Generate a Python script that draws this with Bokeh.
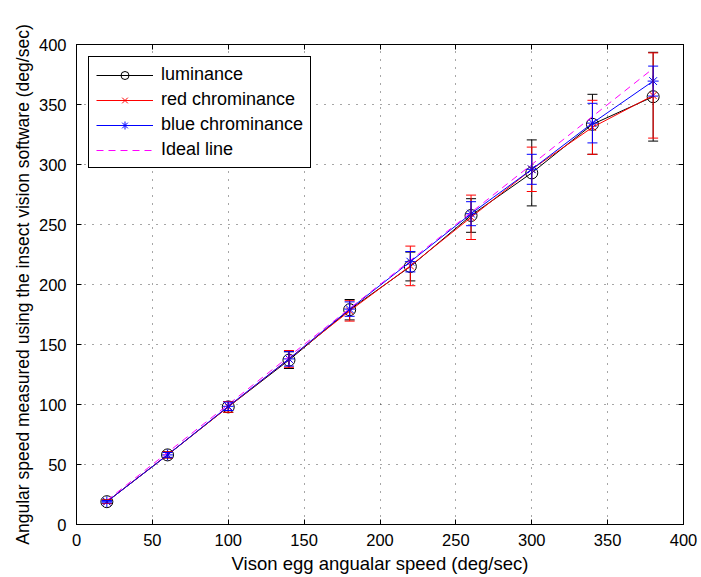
from bokeh.plotting import figure
from bokeh.models import (ColumnDataSource, Whisker, TeeHead, Range1d, LinearAxis,
                          SingleIntervalTicker, CustomJSTickFormatter)
from bokeh.embed import file_html
from bokeh.resources import INLINE

# ---- data ----
speed = [20, 60, 100, 140, 180, 220, 260, 300, 340, 380]
lum = [19, 58, 98, 137, 179, 215, 257.5, 293, 333.5, 356.5]
lum_err = [1.5, 2.5, 4.5, 7, 8.5, 12, 14, 27.5, 25, 37]
red = [19, 58, 98, 138, 178, 215.5, 256, 296, 331, 357.5]
red_err = [1.5, 2.5, 4.5, 7, 8.5, 16.5, 18.5, 18.5, 22.5, 35.5]
blue = [19, 58, 98.5, 138, 179.5, 219, 259, 296, 334.5, 369.5]
blue_err = [1, 2, 3.5, 6, 6, 8.5, 10, 12.5, 16.5, 12.5]
ideal_x = [20, 380]
ideal_y = [20, 380]

FONT = "Liberation Sans"

p = figure(width=698, height=577, output_backend="svg", toolbar_location=None,
           x_range=Range1d(0, 400), y_range=Range1d(0, 400),
           min_border_left=76, min_border_top=44, min_border_right=15, min_border_bottom=53)
p.background_fill_color = "white"
p.border_fill_color = "white"
p.outline_line_color = "black"
p.outline_line_width = 1

for ax in (p.xaxis[0], p.yaxis[0]):
    ax.ticker = SingleIntervalTicker(interval=50)
    ax.major_tick_in = 5
    ax.major_tick_out = 0
    ax.minor_tick_in = 0
    ax.minor_tick_out = 0
    ax.axis_line_color = "black"
    ax.major_label_text_font = FONT
    ax.major_label_text_font_size = "16.5px"
    ax.major_label_text_color = "black"
    ax.axis_label_text_font = FONT
    ax.axis_label_text_font_style = "normal"
    ax.axis_label_text_color = "black"

p.xaxis[0].axis_label = "Vison egg angualar speed (deg/sec)"
p.yaxis[0].axis_label = "Angular speed measured using the insect vision software (deg/sec)"
p.xaxis[0].axis_label_text_font_size = "18.5px"
p.yaxis[0].axis_label_text_font_size = "17.5px"
p.xaxis[0].major_label_standoff = 9
p.yaxis[0].major_label_standoff = 10
p.xaxis[0].axis_label_standoff = 4
p.yaxis[0].axis_label_standoff = 3

for loc in ("right", "above"):
    ax = LinearAxis(ticker=SingleIntervalTicker(interval=50), major_tick_in=5, major_tick_out=0,
                    minor_tick_in=0, minor_tick_out=0,
                    formatter=CustomJSTickFormatter(code="return ''"),
                    major_label_standoff=0, axis_line_color="black")
    p.add_layout(ax, loc)

p.xgrid.ticker = SingleIntervalTicker(interval=50)
p.ygrid.ticker = SingleIntervalTicker(interval=50)
for g in (p.xgrid[0], p.ygrid[0]):
    g.grid_line_color = "black"
    g.grid_line_alpha = 0.7
    g.grid_line_dash = "1 7"
    g.grid_line_width = 1

series = [
    ("luminance", lum, lum_err, "black", "circle", 12),
    ("red chrominance", red, red_err, "red", "x", 10),
    ("blue chrominance", blue, blue_err, "blue", "asterisk", 11),
]

for name, vals, errs, col, marker, size in series:
    src = ColumnDataSource(dict(x=speed, y=vals,
                                upper=[v + e for v, e in zip(vals, errs)],
                                lower=[v - e for v, e in zip(vals, errs)]))
    w = Whisker(source=src, base="x", upper="upper", lower="lower", dimension="height",
                line_color=col, line_width=1, level="glyph",
                upper_head=TeeHead(size=10, line_color=col, line_width=1),
                lower_head=TeeHead(size=10, line_color=col, line_width=1))
    p.add_layout(w)
    p.line("x", "y", source=src, line_color=col, line_width=1, legend_label=name)
    p.scatter("x", "y", source=src, marker=marker, size=size,
              line_color=col, fill_color=None, line_width=1, legend_label=name)

p.line(ideal_x, ideal_y, line_color="magenta", line_width=1, line_dash="7 5",
       legend_label="Ideal line")

legend = p.legend[0]
legend.location = "top_left"
legend.margin = 12
legend.padding = 7
legend.spacing = 4
legend.glyph_width = 57
legend.glyph_height = 20
legend.label_height = 20
legend.label_standoff = 8
legend.label_text_font = FONT
legend.label_text_font_size = "18px"
legend.label_text_color = "black"
legend.border_line_color = "black"
legend.border_line_width = 1
legend.border_line_alpha = 1
legend.background_fill_color = "white"
legend.background_fill_alpha = 1

open("out.html", "w").write(file_html(p, INLINE))
